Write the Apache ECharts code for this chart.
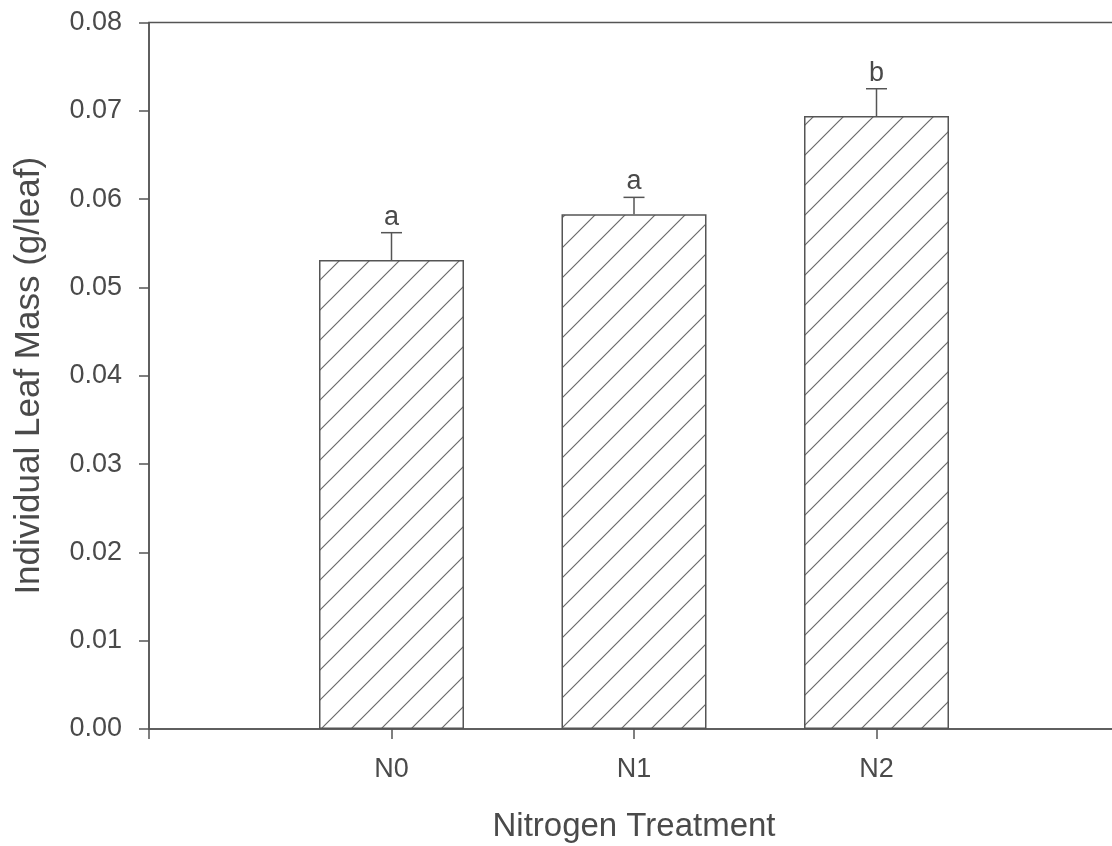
<!DOCTYPE html>
<html>
<head>
<meta charset="utf-8">
<script src="https://cdn.jsdelivr.net/npm/echarts@6/dist/echarts.min.js"></script>
<style>
html,body{margin:0;padding:0;background:#fff;}
#chart{width:1112px;height:846px;}
</style>
</head>
<body>
<div id="chart"></div>
<script>
// Data
const categories = ['', 'N0', 'N1', 'N2', ''];
const means = [null, 0.0531, 0.0583, 0.0694, null];
const errTops = [null, 0.0562, 0.0602, 0.0725, null];
const sigLetters = ['', 'a', 'a', 'b', ''];
const yTicks = [0, 0.01, 0.02, 0.03, 0.04, 0.05, 0.06, 0.07, 0.08];

const lineColor = '#555';
const textColor = '#4a4a4a';
const fontFamily = '"Liberation Sans", Arial, Helvetica, sans-serif';

// Hatch pattern "/"
const pc = document.createElement('canvas');
pc.width = 30; pc.height = 30;
const ctx = pc.getContext('2d');
ctx.fillStyle = '#fff';
ctx.fillRect(0, 0, 30, 30);
ctx.strokeStyle = '#6a6a6a';
ctx.lineWidth = 1.2;
ctx.beginPath();
ctx.moveTo(-5, 35); ctx.lineTo(35, -5);
ctx.moveTo(-35, 35); ctx.lineTo(5, -5);
ctx.moveTo(25, 35); ctx.lineTo(65, -5);
ctx.stroke();

const chart = echarts.init(document.getElementById('chart'), null, {renderer: 'canvas'});

const errData = categories.map((c, i) => errTops[i] == null ? null : [i, means[i], errTops[i], sigLetters[i]]).filter(d => d);

chart.setOption({
  animation: false,
  backgroundColor: '#fff',
  grid: {
    left: 149, top: 22.5, bottom: 117, width: 970,
    show: true, borderColor: lineColor, borderWidth: 1.5,
    containLabel: false, outerBoundsMode: 'none'
  },
  xAxis: {
    type: 'category',
    data: categories,
    boundaryGap: false,
    name: 'Nitrogen Treatment',
    nameLocation: 'middle',
    nameGap: 81,
    nameTextStyle: {fontSize: 33, color: textColor, fontFamily: fontFamily},
    axisLine: {lineStyle: {color: lineColor, width: 1.5}},
    axisTick: {show: true, inside: false, length: 10, interval: 0, lineStyle: {color: lineColor, width: 1.5}},
    axisLabel: {interval: 0, margin: 27, fontSize: 27, color: textColor, fontFamily: fontFamily},
    splitLine: {show: false}
  },
  yAxis: {
    type: 'value',
    min: 0, max: 0.08, interval: 0.01,
    name: 'Individual Leaf Mass (g/leaf)',
    nameLocation: 'middle',
    nameGap: 102,
    nameTextStyle: {fontSize: 35, color: textColor, fontFamily: fontFamily},
    axisLine: {show: true, lineStyle: {color: lineColor, width: 1.5}},
    axisTick: {show: true, inside: false, length: 10, lineStyle: {color: lineColor, width: 1.5}},
    axisLabel: {margin: 27, fontSize: 27, color: textColor, fontFamily: fontFamily,
      formatter: v => v.toFixed(2)},
    splitLine: {show: false}
  },
  series: [
    {
      type: 'bar',
      data: means,
      barWidth: 145,
      itemStyle: {
        color: {image: pc, repeat: 'repeat'},
        borderColor: lineColor,
        borderWidth: 1.5
      },
      z: 2
    },
    {
      type: 'custom',
      data: errData,
      z: 3,
      renderItem: function (params, api) {
        const x = api.value(0);
        const base = api.coord([x, api.value(1)]);
        const top = api.coord([x, api.value(2)]);
        const half = 10.5;
        return {
          type: 'group',
          children: [
            {type: 'line', shape: {x1: base[0], y1: base[1], x2: top[0], y2: top[1]},
              style: {stroke: lineColor, lineWidth: 1.5}},
            {type: 'line', shape: {x1: top[0] - half, y1: top[1], x2: top[0] + half, y2: top[1]},
              style: {stroke: lineColor, lineWidth: 1.5}},
            {type: 'text', x: top[0], y: top[1] - 2,
              style: {text: api.value(3), fill: textColor, fontSize: 27, fontFamily: fontFamily,
                align: 'center', verticalAlign: 'bottom'}}
          ]
        };
      }
    }
  ]
});
</script>
</body>
</html>
